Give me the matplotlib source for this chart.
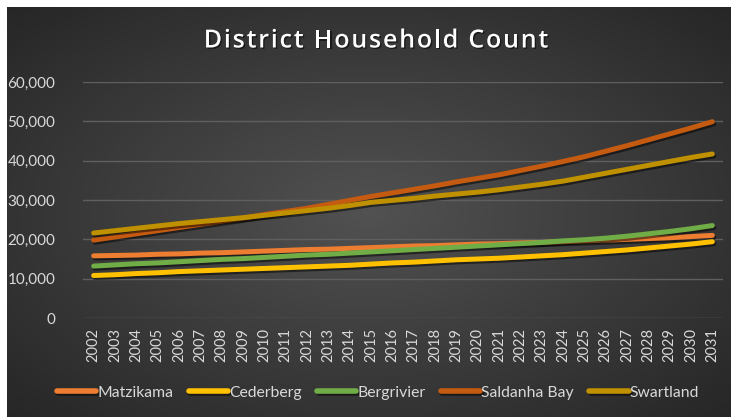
import numpy as np
import matplotlib.pyplot as plt
import matplotlib.patheffects as pe
from matplotlib.ticker import FuncFormatter
from matplotlib.font_manager import FontProperties, findfont
from matplotlib.ft2font import FT2Font

years = [str(y) for y in range(2002, 2032)]

matzikama = [15.8, 15.9, 16.0, 16.2, 16.3, 16.5, 16.6, 16.8, 17.0, 17.2,
             17.4, 17.5, 17.7, 17.9, 18.1, 18.3, 18.4, 18.6, 18.8, 18.9,
             19.1, 19.2, 19.4, 19.6, 19.8, 20.0, 20.2, 20.4, 20.7, 21.0]
cederberg = [10.8, 11.0, 11.3, 11.5, 11.8, 12.0, 12.2, 12.4, 12.6, 12.8,
             13.0, 13.2, 13.4, 13.7, 14.0, 14.2, 14.5, 14.8, 15.0, 15.2,
             15.5, 15.8, 16.1, 16.5, 16.9, 17.3, 17.8, 18.3, 18.8, 19.4]
bergrivier = [13.2, 13.5, 13.8, 14.0, 14.3, 14.6, 14.9, 15.1, 15.4, 15.7,
              16.0, 16.2, 16.5, 16.8, 17.1, 17.4, 17.7, 18.0, 18.3, 18.6,
              18.9, 19.2, 19.6, 19.9, 20.3, 20.8, 21.4, 22.0, 22.7, 23.5]
saldanha_bay = [19.8, 20.6, 21.4, 22.2, 23.0, 23.8, 24.6, 25.4, 26.3, 27.1,
                27.9, 28.9, 29.9, 30.9, 31.8, 32.7, 33.6, 34.6, 35.5, 36.4,
                37.5, 38.6, 39.8, 41.0, 42.4, 43.8, 45.3, 46.8, 48.3, 49.9]
swartland = [21.6, 22.2, 22.8, 23.4, 24.0, 24.5, 25.0, 25.5, 26.1, 26.7,
             27.3, 27.9, 28.6, 29.4, 29.9, 30.4, 31.0, 31.5, 32.0, 32.6,
             33.3, 34.0, 34.8, 35.8, 36.8, 37.8, 38.8, 39.8, 40.8, 41.7]

names = ["Matzikama", "Cederberg", "Bergrivier", "Saldanha Bay", "Swartland"]
series = [matzikama, cederberg, bergrivier, saldanha_bay, swartland]
colors = ["#ED7D31", "#FFC000", "#70AD47", "#C55A11", "#BF9000"]

title = "District Household Count"

plt.rcParams["font.family"] = ["Lato", "DejaVu Sans"]

W, H, DPI = 731, 417, 100
fig = plt.figure(figsize=(W / DPI, H / DPI), dpi=DPI)
fig.patch.set_facecolor("white")

# radial gradient background
bg = fig.add_axes([7 / W, 0, 724 / W, 410 / H])
gx, gy = np.meshgrid(np.linspace(-1, 1, 400), np.linspace(-1, 1, 240))
r = np.sqrt(gx ** 2 + gy ** 2) / np.sqrt(2)
shade = 0.32 - 0.17 * r
bg.imshow(np.dstack([shade, shade, shade]), aspect="auto", extent=[0, 1, 0, 1])
bg.axis("off")

ax = fig.add_axes([83 / W, 99 / H, 640 / W, 236 / H])
ax.set_facecolor("none")

x = np.arange(len(years))
for name, vals, c in zip(names, series, colors):
    ax.plot(x, np.array(vals) * 1000, color=c, lw=3.6, label=name,
            solid_capstyle="round", solid_joinstyle="round",
            path_effects=[pe.SimpleLineShadow(offset=(1, -1.5), shadow_color="black", alpha=0.5),
                          pe.Normal()])

ax.set_xlim(-0.5, len(years) - 0.5)
ax.set_ylim(0, 60000)
ax.set_yticks(range(0, 60001, 10000))
ax.yaxis.set_major_formatter(FuncFormatter(lambda v, p: f"{int(v):,}"))
ax.set_xticks(x)
ax.set_xticklabels(years, rotation=90)
ax.tick_params(axis="both", length=0, colors="#d9d9d9")
ax.tick_params(axis="y", pad=20, labelsize=11)
ax.tick_params(axis="x", pad=7, labelsize=10.5)
ax.grid(axis="y", color="#5f5f5f", lw=1)
ax.set_axisbelow(True)
for s in ax.spines.values():
    s.set_visible(False)

# title with a bit of letter spacing
tprop = FontProperties(family=["Open Sans", "DejaVu Sans"], weight="semibold", size=18)
font = FT2Font(findfont(tprop))
font.set_size(18, DPI)
adv = [font.load_char(ord(ch)).linearHoriAdvance / 65536 for ch in title]
spacing = 1.8
total = sum(adv) + spacing * (len(title) - 1)
xpos = 376 - total / 2
for ch, a in zip(title, adv):
    fig.text(xpos / W, 1 - 41 / H, ch, ha="left", va="center", color="white",
             fontproperties=tprop,
             path_effects=[pe.withSimplePatchShadow(offset=(1, -1), shadow_rgbFace="black", alpha=0.5)])
    xpos += a + spacing

leg = fig.legend(loc="center", bbox_to_anchor=(0.517, 0.058), ncol=5, frameon=False,
                 fontsize=11.3, handlelength=2.5, handletextpad=0.05, columnspacing=1.0)
for t in leg.get_texts():
    t.set_color("#d9d9d9")
for h in leg.get_lines():
    h.set_linewidth(4)

fig.savefig("out.png", dpi=DPI)
